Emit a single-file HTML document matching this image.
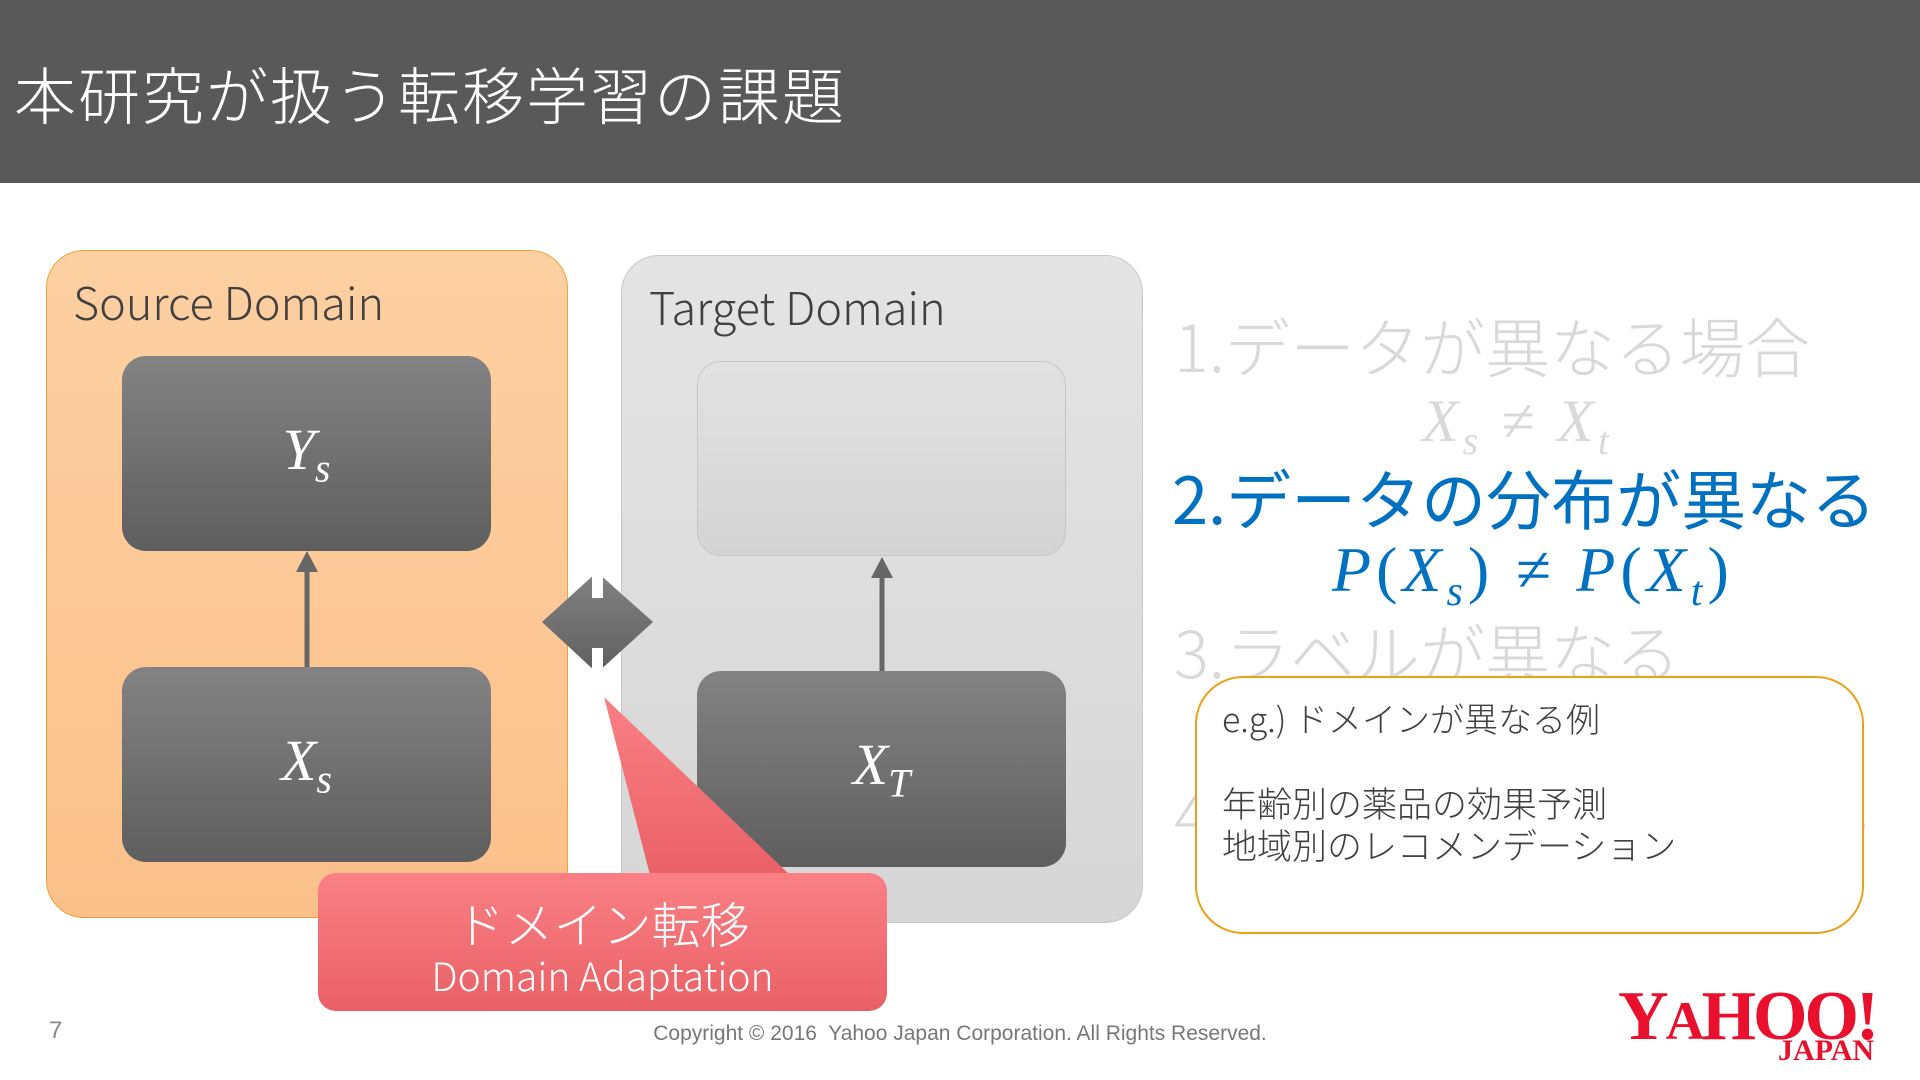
<!DOCTYPE html>
<html><head><meta charset="utf-8"><style>
*{margin:0;padding:0;box-sizing:border-box}
body{width:1920px;height:1080px;position:relative;background:#fff;overflow:hidden;font-family:"Liberation Sans","Noto Sans CJK JP",sans-serif}
.a{position:absolute}
.jp{font-family:"Noto Sans CJK JP","Liberation Sans",sans-serif;font-weight:300}
.math{font-family:"Liberation Serif","DejaVu Serif",serif;font-style:italic}
.dark{position:absolute;border-radius:24px;background:linear-gradient(#838383,#5e5e5e);color:#fff;display:flex;align-items:center;justify-content:center}
</style></head><body>
<div class="a" style="left:0;top:0;width:1920px;height:183px;background:#595959"></div>
<div class="a jp" style="left:14px;top:52px;font-size:62px;line-height:80px;color:#fff;white-space:nowrap;letter-spacing:2px">本研究が扱う転移学習の課題</div>

<div class="a" style="left:46px;top:250px;width:522px;height:668px;border-radius:38px;background:linear-gradient(#fdd0a2,#fbc08a);border:1.5px solid #eea33a"></div>
<div class="a jp" style="left:73px;top:268px;font-size:45px;color:#404040;white-space:nowrap">Source Domain</div>
<div class="dark" style="left:122px;top:356px;width:369px;height:195px"><span class="math" style="font-size:58px">Y<sub style="font-size:40px">s</sub></span></div>
<div class="dark" style="left:122px;top:667px;width:369px;height:195px"><span class="math" style="font-size:58px">X<sub style="font-size:40px">s</sub></span></div>

<div class="a" style="left:621px;top:255px;width:522px;height:668px;border-radius:38px;background:linear-gradient(#e4e4e4,#d6d6d6);border:1.5px solid #c8c8c8"></div>
<div class="a jp" style="left:649px;top:273px;font-size:45px;color:#404040;white-space:nowrap">Target Domain</div>
<div class="a" style="left:697px;top:361px;width:369px;height:195px;border-radius:24px;background:linear-gradient(#e2e2e2,#d4d4d4);border:1.5px solid #c6c6c6"></div>
<div class="dark" style="left:697px;top:671px;width:369px;height:196px"><span class="math" style="font-size:58px">X<sub style="font-size:40px">T</sub></span></div>

<svg class="a" style="left:0;top:0" width="1920" height="1080">
<defs><linearGradient id="g" x1="0" y1="0" x2="0" y2="1"><stop offset="0" stop-color="#828282"/><stop offset="1" stop-color="#5f5f5f"/></linearGradient>
<linearGradient id="r" x1="0" y1="0" x2="0" y2="1"><stop offset="0" stop-color="#fa8085"/><stop offset="1" stop-color="#e96166"/></linearGradient></defs>
<line x1="307" y1="667" x2="307" y2="568" stroke="#666" stroke-width="5"/>
<polygon points="307,551 296,572 318,572" fill="#666"/>
<line x1="882" y1="671" x2="882" y2="574" stroke="#666" stroke-width="5"/>
<polygon points="882,557 871,578 893,578" fill="#666"/>
<polygon points="542,622 597,572 653,622 597,673" fill="url(#g)"/>
<rect x="592" y="570" width="11" height="28" fill="#fff"/>
<rect x="592" y="648" width="11" height="27" fill="#fff"/>
<polygon points="604,697 650,875 790,875" fill="url(#r)"/>
<rect x="318" y="873" width="569" height="138" rx="18" fill="url(#r)"/>
</svg>
<div class="a jp" style="left:318px;top:893px;width:569px;text-align:center;font-size:49px;line-height:60px;color:#fff">ドメイン転移</div>
<div class="a jp" style="left:318px;top:951px;width:569px;text-align:center;font-size:39px;line-height:48px;color:#fff">Domain Adaptation</div>

<div class="a jp" style="left:1174px;top:302px;font-size:65px;line-height:84px;color:#d9d9d9;white-space:nowrap">1.データが異なる場合</div>
<div class="a math" style="left:1422px;top:386px;font-size:60px;line-height:70px;color:#d9d9d9;white-space:nowrap;letter-spacing:4px">X<sub style="font-size:40px">s</sub>&nbsp;≠&nbsp;X<sub style="font-size:40px">t</sub></div>
<div class="a jp" style="left:1172px;top:454px;font-size:65px;line-height:84px;color:#0070c0;font-weight:400;white-space:nowrap">2.データの分布が異なる</div>
<div class="a math" style="left:1332px;top:532px;font-size:64px;line-height:76px;color:#0070c0;white-space:nowrap;letter-spacing:5px">P<span style="font-style:normal">(</span>X<sub style="font-size:42px">s</sub><span style="font-style:normal">)</span>&nbsp;≠&nbsp;P<span style="font-style:normal">(</span>X<sub style="font-size:42px">t</sub><span style="font-style:normal">)</span></div>
<div class="a jp" style="left:1174px;top:608px;font-size:65px;line-height:84px;color:#d9d9d9;white-space:nowrap">3.ラベルが異なる</div>
<div class="a jp" style="left:1174px;top:770px;font-size:65px;line-height:84px;color:#d9d9d9;white-space:nowrap">4.ラベルの分布が異なる</div>

<div class="a" style="left:1195px;top:676px;width:669px;height:258px;border-radius:48px;background:#fff;border:2px solid #eaa21a"></div>
<div class="a jp" style="left:1222px;top:696px;font-size:34px;line-height:44px;color:#404040;white-space:nowrap">e.g.) ドメインが異なる例</div>
<div class="a jp" style="left:1222px;top:782px;font-size:35px;line-height:42px;color:#404040;white-space:nowrap">年齢別の薬品の効果予測<br>地域別のレコメンデーション</div>

<div class="a" style="left:49px;top:1017px;font-size:24px;color:#888">7</div>
<div class="a" style="left:540px;top:1022px;width:840px;text-align:center;font-size:21px;color:#777;white-space:nowrap">Copyright © 2016&nbsp; Yahoo Japan Corporation. All Rights Reserved.</div>
<div class="a" style="left:1618px;top:984px;font-family:'Liberation Serif',serif;font-weight:bold;font-size:70px;line-height:66px;color:#e8102c;letter-spacing:-3px;white-space:nowrap">Y<span style="font-size:54px">A</span>HOO!</div>
<div class="a" style="left:1778px;top:1036px;font-family:'Liberation Serif',serif;font-weight:bold;font-size:30px;line-height:30px;color:#e8102c;white-space:nowrap">JAPAN</div>
</body></html>
